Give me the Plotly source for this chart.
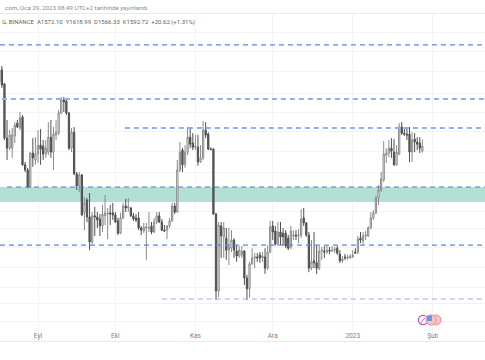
import math
import pandas as pd
import plotly.graph_objects as go

start_date = "2022-08-17"
opens = [1876,1935,1867,1625,1584,1584,1634,1689,1668,1715,1518,1498,1434,1564,1537,1560,1596,1592,1560,1568,
1629,1568,1638,1646,1733,1792,1787,1733,1584,1650,1483,1438,1479,1342,1387,1328,1246,1332,1328,1321,
1298,1332,1338,1342,1342,1335,1315,1274,1325,1366,1359,1359,1332,1325,1325,1291,1281,1291,1291,1298,
1278,1311,1332,1311,1284,1284,1298,1315,1366,1345,1498,1576,1518,1568,1629,1605,1588,1588,1529,1545,
1659,1642,1580,1580,1338,1099,1298,1262,1258,1220,1226,1252,1217,1202,1205,1217,1136,1105,1178,1196,
1199,1205,1196,1199,1165,1214,1298,1281,1239,1278,1274,1274,1258,1230,1265,1268,1265,1268,1325,1308,
1268,1165,1187,1181,1165,1217,1217,1214,1220,1217,1220,1226,1208,1187,1199,1196,1196,1199,1214,1214,
1258,1249,1265,1265,1291,1325,1342,1394,1423,1460,1556,1564,1584,1568,1518,1560,1672,1646,1642,1642,
1568,1621,1609,1605,1572.10]
highs = [1985,1955,1871,1702,1659,1668,1693,1702,1738,1724,1529,1506,1568,1625,1629,1659,1663,1617,1617,1693,
1702,1672,1702,1747,1806,1806,1801,1738,1668,1672,1490,1490,1483,1398,1394,1412,1345,1363,1345,1338,
1370,1405,1359,1370,1377,1345,1325,1342,1377,1391,1394,1363,1342,1338,1345,1298,1308,1308,1345,1311,
1325,1345,1345,1321,1301,1301,1325,1377,1377,1537,1609,1584,1596,1672,1668,1646,1638,1638,1596,1698,
1693,1650,1588,1584,1342,1311,1311,1311,1291,1291,1284,1258,1236,1233,1233,1220,1145,1184,1226,1211,
1211,1214,1214,1226,1236,1315,1315,1298,1311,1311,1291,1284,1268,1298,1284,1284,1288,1355,1359,1311,
1278,1252,1278,1236,1233,1230,1233,1233,1230,1233,1230,1233,1220,1202,1208,1205,1208,1220,1226,1265,
1278,1278,1281,1298,1345,1352,1402,1441,1490,1613,1584,1617,1625,1621,1596,1689,1693,1672,1668,1672,
1650,1646,1629,1629,1618.99]
lows = [1862,1848,1617,1537,1576,1545,1605,1668,1659,1514,1490,1430,1430,1510,1518,1525,1518,1537,1545,1556,
1545,1498,1617,1638,1729,1738,1724,1576,1568,1479,1423,1416,1332,1284,1311,1220,1239,1265,1291,1265,
1278,1301,1255,1301,1318,1308,1268,1271,1321,1345,1345,1328,1315,1311,1284,1268,1274,1190,1278,1271,
1274,1304,1308,1281,1278,1255,1291,1311,1338,1342,1490,1490,1506,1556,1584,1576,1576,1514,1525,1537,
1625,1576,1576,1335,1074,1082,1196,1196,1190,1174,1214,1196,1184,1196,1196,1116,1074,1080,1175,1165,
1184,1181,1184,1148,1159,1211,1252,1236,1233,1236,1236,1226,1220,1223,1252,1252,1242,1258,1298,1262,
1153,1159,1165,1148,1159,1190,1196,1208,1208,1214,1211,1205,1181,1181,1190,1190,1193,1196,1208,1208,
1242,1239,1252,1262,1288,1318,1338,1370,1416,1453,1525,1548,1545,1514,1514,1556,1638,1634,1617,1529,
1529,1568,1576,1564,1566.33]
closes = [1935,1862,1625,1584,1638,1638,1680,1672,1711,1518,1498,1434,1564,1545,1560,1596,1580,1560,1584,1629,
1568,1642,1650,1733,1792,1783,1733,1584,1650,1483,1438,1479,1335,1377,1328,1246,1332,1328,1318,1298,
1338,1342,1342,1338,1335,1311,1274,1325,1366,1359,1363,1332,1321,1318,1291,1284,1294,1294,1292,1278,
1311,1332,1311,1284,1281,1298,1315,1366,1345,1498,1568,1518,1568,1629,1600,1588,1592,1529,1545,1659,
1638,1580,1578,1338,1099,1301,1265,1291,1220,1230,1252,1220,1202,1220,1217,1136,1105,1178,1196,1199,
1196,1196,1202,1165,1214,1294,1278,1239,1278,1262,1262,1233,1226,1281,1268,1265,1268,1321,1308,1268,
1165,1184,1181,1165,1217,1220,1214,1220,1217,1220,1223,1211,1187,1193,1196,1199,1199,1205,1211,1255,
1252,1265,1268,1291,1325,1342,1394,1423,1464,1560,1564,1584,1572,1518,1568,1672,1646,1642,1638,1568,
1617,1609,1600,1584,1592.72]

month_ticks = ["2022-09-01", "2022-10-01", "2022-11-01", "2022-12-01", "2023-01-01", "2023-02-01"]
month_labels = ["Eyl", "Ekl", "Kas", "Ara", "2023", "Şub"]
grid_prices = [2132, 2031, 1925, 1820, 1737, 1655, 1572, 1490, 1419, 1348, 1288, 1227, 1166, 1110, 1063, 1015]

zone_low, zone_high = 1380, 1434
levels = [
    (2063, "2022-08-17 06:00", "#5b83f0", 1.2),
    (1796, "2022-08-18 00:00", "#8fadfb", 2),
    (1668, "2022-10-04 16:00", "#8fadfb", 2),
    (1434, "2022-08-20 00:00", "#4a78ee", 1.2),
    (1236, "2022-08-17 06:00", "#5b83f0", 1.2),
    (1076.5, "2022-10-19 00:00", "#8fadfb", 1.2),
]
header_1 = "com, Oca 29, 2023 08:49 UTC+2 tarihinde yayınlandı"
header_2 = "G, BINANCE  A1572.10  Y1618.99  D1566.33  K1592.72  +20.62 (+1.31%)"

W, H = 485, 360
TOP, BOT = 14, 341
X_START, X_END = "2022-08-17 06:30", "2023-02-21 06:30"
dates = pd.date_range(start_date, periods=len(closes), freq="D")

def px(x):
    return x / W
def py(y):
    return 1 - y / H

fig = go.Figure(go.Candlestick(
    x=dates, open=opens, high=highs, low=lows, close=closes,
    whiskerwidth=0,
    increasing=dict(line=dict(color="#8a8a8a", width=1), fillcolor="#ffffff"),
    decreasing=dict(line=dict(color="#4f4f4f", width=1), fillcolor="#5a5a5a"),
    showlegend=False, hoverinfo="skip",
))

shapes = [dict(type="rect", xref="x", yref="y", x0=X_START, x1=X_END, y0=zone_low, y1=zone_high,
               fillcolor="#b2e0d5", line_width=0, layer="between")]
for price, begin, colour, width in levels:
    shapes.append(dict(type="line", xref="x", yref="y", x0=begin, x1=X_END, y0=price, y1=price,
                       line=dict(color=colour, width=width, dash="5px,4px"), layer="above"))

def circle(cx, cy, r, fill, edge, w=1):
    return dict(type="circle", xref="paper", yref="paper", x0=px(cx - r), x1=px(cx + r),
                y0=py(cy + r), y1=py(cy - r), fillcolor=fill, line=dict(color=edge, width=w), layer="above")
shapes += [
    circle(423, 320, 4.6, "#ffffff", "#b85bc9", 1.3),
    circle(436, 320, 5, "#f9c4c4", "#f28c8c", 1),
    circle(431, 320, 5, "#f9c4c4", "#f28c8c", 1),
    dict(type="rect", xref="paper", yref="paper", x0=px(427), x1=px(432), y0=py(321), y1=py(315.5),
         fillcolor="#5a9be8", line_width=0, layer="above"),
    dict(type="line", xref="paper", yref="paper", x0=px(420.5), x1=px(425), y0=py(323), y1=py(318),
         line=dict(color="#b85bc9", width=1), layer="above"),
]

fig.update_layout(
    width=W, height=H, margin=dict(l=0, r=0, t=0, b=0),
    paper_bgcolor="#ffffff", plot_bgcolor="#ffffff",
    font=dict(family="Roboto, Liberation Sans, sans-serif"),
    showlegend=False, shapes=shapes,
    xaxis=dict(
        type="date", range=[X_START, X_END], domain=[0, 1], rangeslider=dict(visible=False),
        tickmode="array", tickvals=month_ticks, ticktext=month_labels,
        ticklabelposition="inside", ticks="",
        tickfont=dict(size=6.5, color="#808080"),
        showgrid=True, gridcolor="#f3f3f5", gridwidth=1,
        showline=True, linecolor="#e9e9ec", linewidth=1, mirror=True, zeroline=False,
    ),
    yaxis=dict(
        type="log", range=[math.log10(966.8), math.log10(2233)],
        domain=[(H - BOT) / H, (H - TOP) / H],
        tickmode="array", tickvals=grid_prices, showticklabels=False, ticks="",
        showgrid=True, gridcolor="#f3f3f5", gridwidth=1, zeroline=False, showline=False,
    ),
    annotations=[
        dict(text=header_1, xref="paper", yref="paper", x=px(3), y=py(8), xanchor="left", yanchor="middle",
             showarrow=False, font=dict(size=6.2, color="#8a8a8a")),
        dict(text=header_2.replace("  ", "&nbsp;&nbsp;"), xref="paper", yref="paper", x=px(0), y=py(22), xanchor="left", yanchor="middle",
             showarrow=False, font=dict(size=6, color="#5f5f5f")),
    ],
)
fig.write_html("out.html", config=dict(displayModeBar=False),
               post_script="document.body.style.margin='0';document.documentElement.style.overflow='hidden';window.dispatchEvent(new Event('resize'));")
